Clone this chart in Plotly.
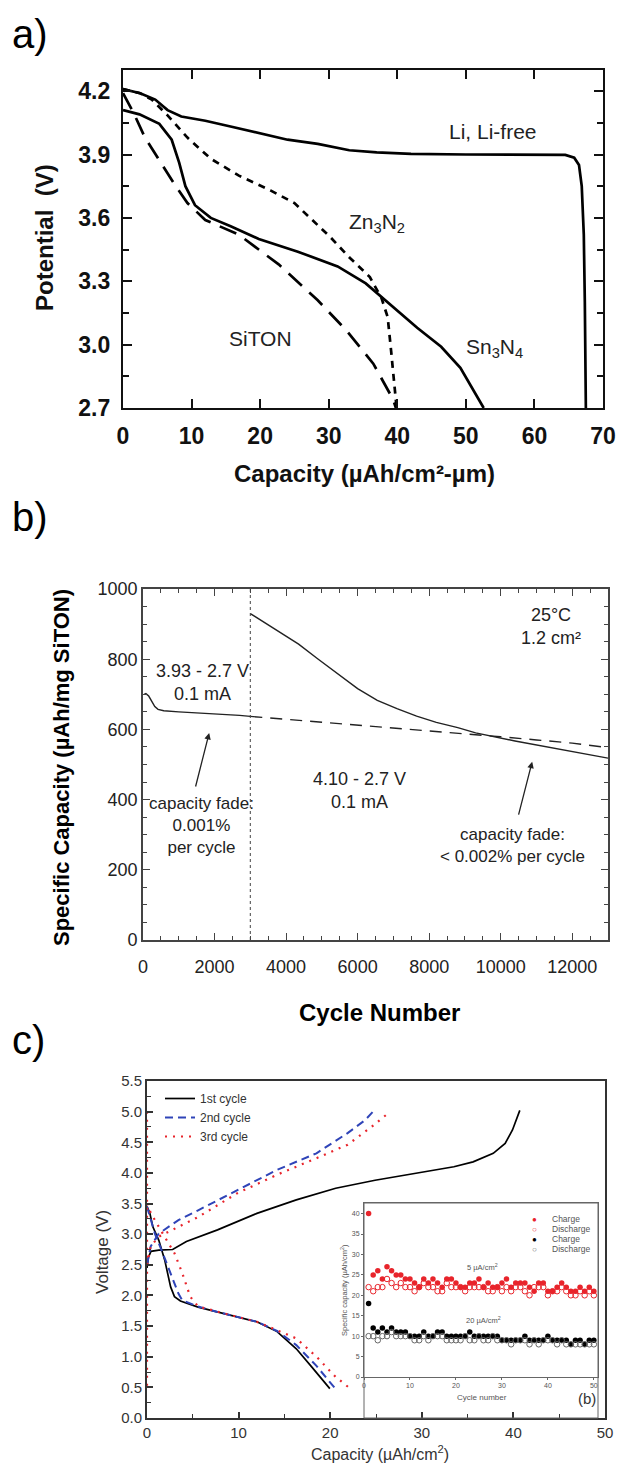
import plotly.graph_objects as go

W, H = 619, 1468
FONT = "Liberation Sans, Arial, sans-serif"

# ---------------- panel a data ----------------
LI_X = [0, 2.5, 4.7, 6.5, 8.5, 12, 16, 20, 24, 28.4, 33, 37, 42, 50, 58, 64.5, 65.8, 66.5, 66.9, 67.2, 67.35, 67.5]
LI_Y = [4.21, 4.19, 4.16, 4.11, 4.08, 4.06, 4.03, 4.0, 3.97, 3.95, 3.92, 3.91, 3.903, 3.90, 3.90, 3.898, 3.885, 3.85, 3.75, 3.52, 3.2, 2.7]
ZN_X = [0, 2.5, 4.2, 6.5, 9.4, 12.8, 16.9, 21.5, 25, 27.3, 30.2, 33.1, 36, 37.7, 38.6, 39.1, 39.6, 39.9]
ZN_Y = [4.21, 4.19, 4.16, 4.085, 3.98, 3.88, 3.80, 3.73, 3.67, 3.60, 3.51, 3.41, 3.32, 3.22, 3.13, 2.97, 2.81, 2.70]
SN_X = [0, 2.4, 5.3, 7.1, 8.2, 9.1, 10.5, 12.8, 15.7, 19.8, 25.5, 31.3, 35.4, 38.3, 42.9, 46.4, 49.2, 52.6]
SN_Y = [4.11, 4.09, 4.045, 3.97, 3.86, 3.75, 3.66, 3.60, 3.56, 3.50, 3.44, 3.37, 3.29, 3.21, 3.08, 2.99, 2.89, 2.70]
SI_X = [0, 1.5, 3.2, 5.3, 7.5, 9.4, 12, 16.9, 22.7, 28.4, 32.5, 36.5, 39.4, 39.8]
SI_Y = [4.19, 4.1, 3.98, 3.87, 3.76, 3.67, 3.59, 3.52, 3.38, 3.21, 3.07, 2.91, 2.74, 2.70]
A_YTICKS = [2.7, 3.0, 3.3, 3.6, 3.9, 4.2]
A_XTICKS = [0, 10, 20, 30, 40, 50, 60, 70]

# ---------------- panel b data ----------------
B1_X = [30, 80, 160, 250, 330, 420, 580, 1000, 1600, 2200, 2700, 3000]
B1_Y = [700, 702, 695, 680, 665, 657, 653, 650, 647, 644, 640, 637]
B2_X = [3000, 4000, 5000, 6000, 7000, 8000, 9000, 10000, 11000, 12000, 13000]
B2_Y = [637, 629, 621, 613, 605, 597, 588, 579, 570, 561, 548]
B3_X = [3000, 3350, 3800, 4350, 4900, 5450, 6000, 6550, 7100, 7650, 8200, 8800, 9300, 10400, 11500, 13000]
B3_Y = [930, 908, 880, 843, 800, 758, 716, 683, 659, 638, 620, 605, 590, 567, 546, 518]
SWITCH_CYCLE = 3000
B_XTICKS = [0, 2000, 4000, 6000, 8000, 10000, 12000]
B_YTICKS = [0, 200, 400, 600, 800, 1000]

# ---------------- panel c data ----------------
C1D_X = [0, 0.3, 0.64, 1.29, 1.93, 2.36, 2.58, 3.0, 3.65, 5.58, 7.7, 9.87, 12.0, 14.2, 16.3, 18.0, 19.96]
C1D_Y = [3.45, 3.35, 3.12, 2.90, 2.58, 2.25, 2.14, 1.98, 1.91, 1.81, 1.73, 1.65, 1.57, 1.41, 1.13, 0.83, 0.48]
C1C_X = [0, 0.15, 0.43, 1.29, 2.8, 4.3, 7.7, 12.0, 16.3, 20.6, 24.9, 29.2, 33.5, 35.6, 37.8, 39.1, 39.9, 40.7]
C1C_Y = [2.45, 2.62, 2.72, 2.74, 2.75, 2.88, 3.07, 3.34, 3.56, 3.75, 3.88, 3.99, 4.10, 4.18, 4.32, 4.48, 4.70, 5.02]
C2D_X = [0, 0.86, 1.72, 2.58, 3.43, 3.86, 5.58, 7.7, 9.87, 12.0, 14.2, 16.3, 18.5, 20.5]
C2D_Y = [3.45, 3.01, 2.69, 2.36, 2.03, 1.92, 1.82, 1.73, 1.65, 1.57, 1.42, 1.19, 0.85, 0.49]
C2C_X = [0, 0.4, 1.29, 3.43, 5.58, 9.87, 14.2, 18.5, 21.9, 23.8, 24.8]
C2C_Y = [2.5, 2.8, 3.01, 3.23, 3.39, 3.72, 4.05, 4.32, 4.65, 4.86, 5.02]
C3D_X = [0, 0.43, 1.72, 3.0, 3.86, 4.72, 5.58, 7.7, 9.87, 12.0, 14.2, 16.3, 18.5, 20.6, 22.1]
C3D_Y = [3.5, 3.34, 3.01, 2.69, 2.36, 1.98, 1.82, 1.73, 1.65, 1.57, 1.43, 1.30, 1.0, 0.67, 0.49]
C3C_X = [0, 0.4, 1.29, 5.58, 9.87, 14.2, 18.5, 21.9, 24.5, 26.3]
C3C_Y = [2.5, 2.8, 2.96, 3.28, 3.67, 3.97, 4.24, 4.46, 4.75, 4.97]
C3R_X = [0, 0]
C3R_Y = [5.0, 0.5]

# ---------------- inset data ----------------
CYC = list(range(1, 51))
Q5_CH = [40, 25, 26, 24, 27, 26, 25, 25, 24, 24, 23, 22, 24, 23, 24, 23, 22, 24, 24, 23,
         22, 22, 23, 23, 24, 22, 23, 22, 22, 23, 24, 22, 23, 23, 23, 22, 21, 23, 23, 21,
         21, 22, 23, 22, 21, 21, 22, 21, 22, 21]
Q5_DIS = [22, 21, 22, 22, 24, 23, 22, 23, 22, 22, 21, 22, 23, 22, 22, 21, 21, 23, 22, 22,
          22, 21, 22, 22, 22, 22, 21, 21, 22, 21, 22, 21, 22, 22, 21, 20, 22, 22, 22, 20,
          21, 21, 22, 21, 20, 20, 21, 20, 21, 20]
Q20_CH = [18, 12, 11, 12, 11, 12, 11, 11, 11, 10, 10, 10, 11, 10, 10, 11, 11, 10, 10, 10,
          10, 10, 11, 10, 10, 10, 10, 10, 10, 9, 9, 9, 9, 9, 10, 9, 9, 9, 9, 10,
          9, 9, 9, 9, 8, 9, 9, 8, 9, 9]
Q20_DIS = [10, 10, 9, 10, 10, 11, 10, 10, 10, 10, 9, 9, 10, 9, 10, 10, 10, 9, 9, 9,
           9, 10, 9, 9, 10, 9, 9, 10, 9, 9, 9, 8, 9, 9, 9, 8, 9, 8, 9, 9,
           9, 8, 9, 8, 8, 8, 8, 8, 8, 8]
INSET_LEGEND = [("●", "Charge", "#e8242b"), ("○", "Discharge", "#e8242b"),
                ("●", "Charge", "black"), ("○", "Discharge", "#666")]

RED = "#e8242b"
BLUE = "#2f44b8"


def px_x(p):
    return p / W


def px_y(p):
    return 1 - p / H


fig = go.Figure()

# panel a traces
la = dict(color="black", width=2.7)
fig.add_trace(go.Scatter(x=LI_X, y=LI_Y, mode="lines", line=la, xaxis="x", yaxis="y", showlegend=False, name="Li, Li-free"))
fig.add_trace(go.Scatter(x=ZN_X, y=ZN_Y, mode="lines", line=dict(color="black", width=2.7, dash="7px,6px"), xaxis="x", yaxis="y", showlegend=False, name="Zn3N2"))
fig.add_trace(go.Scatter(x=SN_X, y=SN_Y, mode="lines", line=la, xaxis="x", yaxis="y", showlegend=False, name="Sn3N4"))
fig.add_trace(go.Scatter(x=SI_X, y=SI_Y, mode="lines", line=dict(color="black", width=2.7, dash="18px,10px"), xaxis="x", yaxis="y", showlegend=False, name="SiTON"))

# panel b traces
fig.add_trace(go.Scatter(x=B1_X, y=B1_Y, mode="lines", line=dict(color="#222", width=1.4), xaxis="x2", yaxis="y2", showlegend=False))
fig.add_trace(go.Scatter(x=B2_X, y=B2_Y, mode="lines", line=dict(color="#222", width=1.4, dash="12px,8px"), xaxis="x2", yaxis="y2", showlegend=False))
fig.add_trace(go.Scatter(x=B3_X, y=B3_Y, mode="lines", line=dict(color="#222", width=1.4), xaxis="x2", yaxis="y2", showlegend=False))
fig.add_trace(go.Scatter(x=[SWITCH_CYCLE, SWITCH_CYCLE], y=[0, 1000], mode="lines", line=dict(color="#444", width=1, dash="dot"), xaxis="x2", yaxis="y2", showlegend=False))

# panel c traces
fig.add_trace(go.Scatter(x=C1D_X, y=C1D_Y, mode="lines", line=dict(color="black", width=1.7), xaxis="x3", yaxis="y3", name="1st cycle", legend="legend", legendgroup="c1"))
fig.add_trace(go.Scatter(x=C1C_X, y=C1C_Y, mode="lines", line=dict(color="black", width=1.7), xaxis="x3", yaxis="y3", showlegend=False, legendgroup="c1"))
fig.add_trace(go.Scatter(x=C2D_X, y=C2D_Y, mode="lines", line=dict(color=BLUE, width=2, dash="8px,5px"), xaxis="x3", yaxis="y3", name="2nd cycle", legend="legend", legendgroup="c2"))
fig.add_trace(go.Scatter(x=C2C_X, y=C2C_Y, mode="lines", line=dict(color=BLUE, width=2, dash="8px,5px"), xaxis="x3", yaxis="y3", showlegend=False, legendgroup="c2"))
fig.add_trace(go.Scatter(x=C3D_X, y=C3D_Y, mode="lines", line=dict(color=RED, width=2.2, dash="2px,6px"), xaxis="x3", yaxis="y3", name="3rd cycle", legend="legend", legendgroup="c3"))
fig.add_trace(go.Scatter(x=C3C_X, y=C3C_Y, mode="lines", line=dict(color=RED, width=2.2, dash="2px,6px"), xaxis="x3", yaxis="y3", showlegend=False, legendgroup="c3"))
fig.add_trace(go.Scatter(x=C3R_X, y=C3R_Y, mode="lines", line=dict(color=RED, width=2.2, dash="2px,6px"), xaxis="x3", yaxis="y3", showlegend=False, legendgroup="c3"))

# inset traces
ms = 5.5
fig.add_trace(go.Scatter(x=CYC, y=Q5_CH, mode="markers", marker=dict(color=RED, size=ms, symbol="circle"), xaxis="x4", yaxis="y4", name="Charge", showlegend=False))
fig.add_trace(go.Scatter(x=CYC, y=Q5_DIS, mode="markers", marker=dict(color=RED, size=ms, symbol="circle-open", line=dict(width=1)), xaxis="x4", yaxis="y4", name="Discharge", showlegend=False))
fig.add_trace(go.Scatter(x=CYC, y=Q20_CH, mode="markers", marker=dict(color="black", size=ms, symbol="circle"), xaxis="x4", yaxis="y4", name="Charge", showlegend=False))
fig.add_trace(go.Scatter(x=CYC, y=Q20_DIS, mode="markers", marker=dict(color="#666", size=ms, symbol="circle-open", line=dict(width=1)), xaxis="x4", yaxis="y4", name="Discharge", showlegend=False))

# ---------------- axes ----------------
fa_tick = dict(family=FONT, size=23, color="#111", weight="bold")
axA = dict(showgrid=False, zeroline=False, showline=True, linecolor="#111", linewidth=2.2,
           mirror="ticks", ticks="inside", ticklen=9, tickwidth=2, tickcolor="#111", tickfont=fa_tick)
xA = dict(axA, domain=[px_x(123), px_x(603)], range=[0, 70], tickmode="array", tickvals=A_XTICKS, anchor="y", ticklabelstandoff=6)
yA = dict(axA, domain=[px_y(408), px_y(70)], range=[2.7, 4.3], tickmode="array", tickvals=A_YTICKS, tickformat=".1f", anchor="x",
          minor=dict(ticks="inside", dtick=0.15, tick0=2.7, ticklen=6, tickwidth=2, tickcolor="#111", showgrid=False), ticklabelstandoff=6)

fb_tick = dict(family=FONT, size=18, color="#222")
axB = dict(showgrid=False, zeroline=False, showline=True, linecolor="#444", linewidth=1.6,
           mirror="ticks", ticks="inside", ticklen=7, tickwidth=1.4, tickcolor="#444", tickfont=fb_tick)
xB = dict(axB, domain=[px_x(143), px_x(608)], range=[0, 13000], tickmode="array", tickvals=B_XTICKS, tickformat="d", anchor="y2",
          ticklabelstandoff=10,
          minor=dict(ticks="inside", dtick=500, ticklen=4, tickwidth=1.2, tickcolor="#444", showgrid=False))
yB = dict(axB, domain=[px_y(940), px_y(589)], range=[0, 1000], tickmode="array", tickvals=B_YTICKS, anchor="x2",
          minor=dict(ticks="inside", dtick=50, ticklen=4, tickwidth=1.2, tickcolor="#444", showgrid=False))

fc_tick = dict(family=FONT, size=15, color="#333")
axC = dict(showgrid=False, zeroline=False, showline=True, linecolor="#333", linewidth=1.7,
           mirror=True, ticks="inside", ticklen=6, tickwidth=1.5, tickcolor="#333", tickfont=fc_tick)
xC = dict(axC, domain=[px_x(147), px_x(605)], range=[0, 50], dtick=10, anchor="y3",
          minor=dict(ticks="inside", dtick=5, ticklen=4, tickwidth=1.3, tickcolor="#333", showgrid=False))
yC = dict(axC, domain=[px_y(1418), px_y(1081)], range=[0, 5.5], dtick=0.5, tickformat=".1f", anchor="x3",
          minor=dict(ticks="inside", dtick=0.25, ticklen=4, tickwidth=1.3, tickcolor="#333", showgrid=False))

fi_tick = dict(family=FONT, size=7, color="#555")
axI = dict(showgrid=False, zeroline=False, showline=True, linecolor="#666", linewidth=1,
           mirror=True, ticks="outside", ticklen=2, tickwidth=0.8, tickcolor="#666", tickfont=fi_tick)
xI = dict(axI, domain=[px_x(364), px_x(598)], range=[0, 50.9], dtick=10, anchor="y4")
yI = dict(axI, domain=[px_y(1377), px_y(1203)], range=[0, 42.6], dtick=5, anchor="x4")

# ---------------- annotations ----------------
ann = []


def label(text, x, y, size, bold=False, angle=0, color="black", xanchor="center", yanchor="middle"):
    ann.append(dict(text=text, x=px_x(x), y=px_y(y), xref="paper", yref="paper", showarrow=False,
                    font=dict(family=FONT, size=size, color=color, weight="bold" if bold else "normal"),
                    textangle=angle, xanchor=xanchor, yanchor=yanchor))


def dlab(text, x, y, xr, yr, size, color="#222"):
    ann.append(dict(text=text, x=x, y=y, xref=xr, yref=yr, showarrow=False,
                    font=dict(family=FONT, size=size, color=color), xanchor="center", yanchor="middle"))


# panel letters
label("a)", 10, 34, 40, xanchor="left")
label("b)", 10, 517, 40, xanchor="left")
label("c)", 10, 1040, 40, xanchor="left")

# panel a
label("Potential  (V)", 44, 238, 24, bold=True, angle=-90, color="#111")
label("Capacity (µAh/cm²-µm)", 364, 473, 24, bold=True, color="#111")
dlab("Li, Li-free", 53.9, 4.01, "x", "y", 21)
dlab("Zn<sub>3</sub>N<sub>2</sub>", 37.1, 3.575, "x", "y", 21)
dlab("SiTON", 20.1, 3.03, "x", "y", 21)
dlab("Sn<sub>3</sub>N<sub>4</sub>", 54.2, 2.985, "x", "y", 21)

# panel b
label("Specific Capacity (µAh/mg SiTON)", 62, 768, 22, bold=True, angle=-90)
label("Cycle Number", 380, 1012, 24, bold=True)
dlab("3.93 - 2.7 V<br>0.1 mA", 1650, 735, "x2", "y2", 18)
dlab("25°C<br>1.2 cm²", 11400, 893, "x2", "y2", 18)
dlab("4.10 - 2.7 V<br>0.1 mA", 6060, 426, "x2", "y2", 18)
dlab("capacity fade:<br>0.001%<br>per cycle", 1630, 325, "x2", "y2", 17)
dlab("capacity fade:<br>< 0.002% per cycle", 10330, 270, "x2", "y2", 17)
for (tx, ty, hx, hy) in [(1460, 433, 1850, 590), (10490, 353, 10880, 508)]:
    ann.append(dict(x=hx, y=hy, ax=tx, ay=ty, xref="x2", yref="y2", axref="x2", ayref="y2",
                    showarrow=True, arrowhead=2, arrowsize=1, arrowwidth=1.3, arrowcolor="#222", text=""))

# panel c
label("Voltage (V)", 102, 1252, 17, angle=-90, color="#333")
label("Capacity (µAh/cm<sup>2</sup>)", 380, 1453, 16, color="#333")

# inset labels
dlab("5 µA/cm<sup>2</sup>", 25.7, 27.0, "x4", "y4", 7.5, color="#555")
dlab("20 µA/cm<sup>2</sup>", 25.9, 14.0, "x4", "y4", 7.5, color="#555")
label("Specific capacity (µAh/cm<sup>2</sup>)", 344, 1290, 7.5, angle=-90, color="#555")
label("Cycle number", 482, 1397, 8, color="#555")
label("(b)", 587, 1398, 15, color="#333")
for i, (sym, txt, col) in enumerate(INSET_LEGEND):
    yy = 1219 + 10 * i
    label(sym, 534, yy, 8, color=col)
    label(txt, 550, yy, 8.5, color="#555", xanchor="left")

shapes = [dict(type="rect", xref="paper", yref="paper", x0=px_x(364), x1=px_x(598), y0=px_y(1418), y1=px_y(1203),
               line=dict(color="#666", width=1), fillcolor="rgba(0,0,0,0)", layer="above")]

fig.update_layout(
    template="none",
    width=W, height=H, margin=dict(l=0, r=0, t=0, b=0),
    paper_bgcolor="white", plot_bgcolor="white",
    font=dict(family=FONT),
    xaxis=xA, yaxis=yA, xaxis2=xB, yaxis2=yB, xaxis3=xC, yaxis3=yC, xaxis4=xI, yaxis4=yI,
    annotations=ann, shapes=shapes,
    legend=dict(x=px_x(160), y=px_y(1084), xanchor="left", yanchor="top", bgcolor="rgba(0,0,0,0)",
                font=dict(family=FONT, size=12, color="#333"), tracegroupgap=0, itemwidth=30),
    showlegend=True,
)

fig.write_html("out.html")
